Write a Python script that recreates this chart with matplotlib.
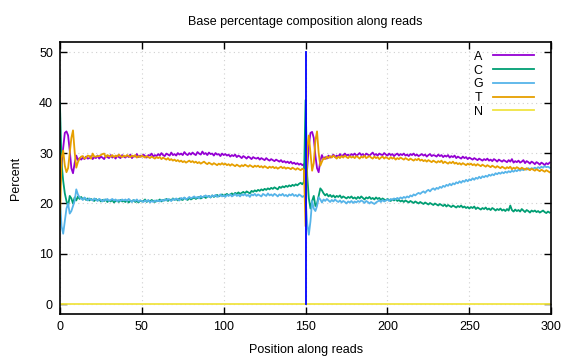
import matplotlib
matplotlib.use("Agg")
import matplotlib.pyplot as plt

plt.rcParams['font.family'] = ['Liberation Sans', 'DejaVu Sans']

# position 0..299 (read 1 = 0..149, read 2 = 150..299)
positions = list(range(300))

a_pct = [
    # read 1
    23.0, 27.5, 31.0, 34.0, 34.3, 33.5, 30.5, 27.0, 26.0, 28.0,
    29.5, 28.6, 29.0, 28.7, 29.1, 28.8, 29.3, 28.9, 29.0, 29.4,
    28.8, 29.2, 29.0, 29.5, 28.9, 29.3, 29.1, 28.8, 29.4, 29.2,
    29.0, 29.6, 29.1, 29.3, 28.9, 29.5, 29.2, 29.0, 29.6, 29.3,
    29.1, 29.5, 29.2, 29.7, 29.0, 29.4, 29.3, 29.8, 29.2, 29.5,
    29.3, 29.7, 29.4, 29.1, 29.6, 29.5, 29.9, 29.3, 29.6, 29.4,
    29.8, 29.5, 30.0, 29.6, 29.4, 29.9, 29.7, 29.5, 30.1, 29.6,
    29.8, 29.5, 30.0, 29.7, 29.9, 29.6, 30.2, 29.8, 29.6, 30.0,
    29.7, 30.1, 29.8, 29.6, 30.2, 29.9, 29.7, 30.3, 29.8, 30.0,
    29.6, 30.1, 29.8, 29.9, 29.5, 30.0, 29.7, 29.8, 29.4, 29.9,
    29.6, 29.8, 29.5, 29.7, 29.3, 29.6, 29.4, 29.7, 29.2, 29.5,
    29.3, 29.0, 29.4, 29.2, 28.9, 29.3, 29.1, 28.8, 29.2, 29.0,
    28.9, 29.1, 28.7, 29.0, 28.8, 28.6, 29.0, 28.7, 28.5, 28.8,
    28.6, 28.4, 28.7, 28.5, 28.3, 28.6, 28.2, 28.4, 28.1, 28.3,
    28.0, 28.3, 27.9, 28.1, 27.8, 28.0, 27.7, 27.9, 27.6, 27.8,
    # read 2
    23.5, 27.0, 31.5, 34.0, 34.2, 33.0, 29.5, 27.0, 26.2, 28.5,
    29.6, 28.8, 29.2, 28.9, 29.5, 29.1, 29.3, 29.7, 29.2, 29.5,
    29.3, 29.8, 29.4, 29.6, 29.9, 29.5, 29.7, 29.4, 29.8, 29.6,
    29.9, 29.5, 29.7, 30.0, 29.6, 29.8, 29.4, 29.9, 29.7, 29.5,
    29.8, 30.1, 29.6, 29.8, 29.5, 29.9, 29.7, 29.6, 30.0, 29.7,
    29.5, 29.9, 29.6, 29.8, 29.4, 29.7, 29.9, 29.5, 29.8, 29.6,
    29.9, 29.5, 29.7, 29.4, 29.8, 29.6, 29.9, 29.5, 29.7, 29.4,
    29.6, 29.8, 29.5, 29.7, 29.3, 29.6, 29.8, 29.4, 29.6, 29.5,
    29.3, 29.7, 29.4, 29.6, 29.2, 29.5, 29.3, 29.6, 29.1, 29.4,
    29.2, 29.5, 29.0, 29.3, 29.1, 28.9, 29.3, 29.0, 29.2, 28.8,
    29.1, 28.9, 28.7, 29.0, 28.8, 28.6, 28.9, 28.7, 28.5, 28.8,
    28.6, 28.9, 28.5, 28.7, 28.4, 28.8, 28.6, 28.3, 28.7, 28.5,
    28.3, 28.6, 28.4, 28.2, 28.6, 28.3, 28.8, 28.1, 28.4, 28.2,
    28.5, 28.1, 28.3, 28.6, 28.0, 28.4, 28.2, 27.9, 28.3, 28.1,
    27.8, 28.2, 28.0, 27.7, 28.1, 27.9, 27.6, 28.0, 27.8, 28.1,
]

c_pct = [
    # read 1
    40.0, 28.0, 24.5, 22.0, 20.5, 19.5, 21.5, 21.0, 20.0, 21.2,
    20.6, 21.4, 20.9, 21.3, 20.8, 21.1, 20.7, 21.0, 20.6, 20.9,
    20.7, 20.5, 20.9, 20.6, 20.8, 20.4, 20.7, 20.5, 20.8, 20.3,
    20.6, 20.4, 20.7, 20.2, 20.5, 20.6, 20.3, 20.7, 20.4, 20.5,
    20.3, 20.6, 20.2, 20.5, 20.4, 20.7, 20.3, 20.5, 20.2, 20.6,
    20.4, 20.5, 20.8, 20.3, 20.6, 20.4, 20.7, 20.5, 20.3, 20.6,
    20.5, 20.8, 20.4, 20.7, 20.6, 20.9, 20.5, 20.8, 20.6, 21.0,
    20.7, 20.9, 20.6, 21.0, 20.8, 20.7, 21.1, 20.9, 20.7, 21.1,
    20.8, 21.0, 21.2, 20.9, 21.1, 21.3, 21.0, 21.2, 21.4, 21.1,
    21.3, 21.5, 21.2, 21.6, 21.3, 21.5, 21.7, 21.4, 21.6, 21.8,
    21.5, 21.7, 21.9, 21.6, 21.8, 22.0, 21.7, 22.1, 21.9, 22.2,
    21.9, 22.1, 22.3, 22.0, 22.4, 22.2, 22.0, 22.5, 22.3, 22.6,
    22.4, 22.7, 22.5, 22.8, 22.6, 22.9, 22.7, 23.0, 22.8, 23.1,
    22.9, 23.2, 23.0, 22.8, 23.3, 23.1, 23.4, 23.2, 23.5, 23.3,
    23.6, 23.4, 23.7, 23.5, 23.8, 23.6, 23.9, 24.1, 23.8, 24.3,
    # read 2
    40.5, 25.5, 21.0, 19.0, 20.5, 21.5, 19.5, 20.0, 21.5, 23.0,
    22.6, 22.0, 21.6, 21.9, 21.4, 21.7, 21.3, 21.6, 21.2, 21.5,
    21.3, 21.6, 21.1, 21.4, 21.2, 21.0, 21.3, 21.1, 21.4, 21.0,
    21.2, 20.9, 21.3, 21.0, 21.4, 21.1, 20.8, 21.2, 21.0, 21.3,
    20.9, 21.1, 20.8, 21.2, 20.9, 21.1, 20.7, 21.0, 20.8, 20.6,
    20.9, 20.7, 20.5, 20.8, 20.6, 20.9, 20.5, 20.7, 20.4, 20.6,
    20.3, 20.6, 20.4, 20.2, 20.5, 20.3, 20.1, 20.4, 20.2, 20.0,
    20.3, 20.1, 19.9, 20.2, 20.0, 19.8, 20.1, 19.9, 19.7, 20.0,
    19.8, 19.6, 19.9, 19.7, 19.5, 19.8, 19.4, 19.7, 19.5, 19.3,
    19.6, 19.4, 19.2, 19.5, 19.3, 19.6, 19.2, 19.4, 19.1, 19.3,
    19.0, 19.3, 19.1, 19.4, 18.9, 19.2, 19.0, 18.8, 19.1, 18.9,
    19.2, 18.8, 19.0, 18.7, 19.1, 18.9, 18.6, 18.9, 18.7, 19.0,
    18.6, 18.8, 18.5, 18.9, 18.6, 19.6, 18.7, 18.4, 18.8, 18.5,
    18.7, 18.4, 18.9, 18.6, 18.3, 18.7, 18.5, 18.2, 18.6, 18.4,
    18.6, 18.3, 18.5, 18.2, 18.4, 18.6, 18.3, 18.1, 18.4, 18.2,
]

g_pct = [
    # read 1
    21.0, 15.5, 14.0, 16.5, 19.0, 20.0, 18.0, 18.5, 19.5, 20.5,
    22.8, 21.8, 21.2, 21.0, 20.7, 21.2, 20.9, 20.6, 21.0, 20.8,
    20.6, 21.0, 20.8, 20.5, 20.9, 20.7, 20.4, 20.8, 20.6, 20.9,
    20.5, 20.7, 20.9, 20.6, 20.8, 20.4, 20.7, 20.5, 20.8, 20.6,
    20.8, 20.5, 20.9, 20.6, 20.3, 20.7, 20.5, 20.8, 20.4, 20.6,
    20.5, 20.3, 20.6, 20.4, 20.7, 20.2, 20.5, 20.3, 20.6, 20.4,
    20.6, 20.4, 20.7, 20.5, 20.8, 20.6, 20.9, 20.7, 20.5, 20.9,
    20.7, 21.0, 20.8, 20.6, 21.1, 20.9, 21.2, 20.8, 21.0, 21.3,
    21.0, 21.2, 21.4, 21.1, 21.3, 21.0, 21.5, 21.2, 21.4, 21.6,
    21.3, 21.5, 21.2, 21.6, 21.4, 21.7, 21.3, 21.5, 21.8, 21.4,
    21.6, 21.3, 21.7, 21.5, 21.8, 21.4, 21.6, 21.9, 21.5, 21.7,
    21.4, 21.8, 21.6, 21.9, 21.5, 21.7, 21.3, 21.8, 21.6, 21.9,
    21.5, 21.8, 21.6, 21.4, 21.9, 21.7, 21.5, 22.0, 21.6, 21.8,
    21.5, 21.9, 21.7, 21.4, 21.8, 21.6, 21.9, 21.5, 21.7, 21.4,
    21.8, 21.6, 21.9, 21.5, 21.7, 21.4, 21.8, 21.6, 21.3, 21.5,
    # read 2
    21.0, 16.0, 13.8, 16.5, 20.5, 19.0, 18.5, 19.5, 21.2, 20.8,
    20.2, 20.8, 20.5, 20.9, 20.6, 20.3, 20.7, 20.4, 20.8, 20.5,
    20.3, 20.6, 20.2, 20.5, 20.3, 20.0, 20.4, 20.2, 20.5, 20.1,
    20.4, 20.2, 20.5, 20.3, 20.6, 20.4, 20.1, 20.5, 20.3, 20.0,
    20.3, 20.1, 19.9, 20.2, 20.4, 20.6, 20.3, 20.7, 20.4, 20.6,
    20.8, 20.5, 20.9, 20.7, 21.0, 20.8, 21.1, 20.9, 21.2, 21.0,
    21.3, 21.1, 21.4, 21.2, 21.6, 21.4, 21.8, 21.6, 21.9, 22.1,
    21.9, 22.2, 22.4, 22.1, 22.5, 22.7, 22.4, 22.8, 23.0, 22.7,
    23.1, 22.9, 23.3, 23.1, 23.5, 23.3, 23.7, 23.5, 23.9, 23.6,
    24.0, 23.8, 24.2, 24.0, 24.4, 24.1, 24.5, 24.3, 24.7, 24.4,
    24.8, 24.6, 25.0, 24.7, 25.1, 24.9, 25.3, 25.0, 25.4, 25.2,
    25.5, 25.3, 25.7, 25.5, 25.8, 25.6, 26.0, 25.8, 26.1, 25.9,
    26.2, 26.0, 26.3, 26.1, 26.4, 26.2, 26.5, 26.3, 26.6, 26.4,
    26.7, 26.5, 26.8, 26.6, 26.9, 26.7, 27.0, 26.8, 27.0, 26.9,
    27.1, 26.9, 27.2, 27.0, 27.3, 27.1, 27.4, 27.2, 27.3, 27.1,
]

t_pct = [
    # read 1
    16.0, 29.0, 30.5, 27.5, 26.2, 27.0, 30.0, 33.0, 34.5, 30.3,
    27.1, 28.2, 28.9, 29.3, 29.4, 28.9, 29.1, 29.5, 29.4, 28.9,
    29.9, 29.3, 29.3, 29.4, 29.4, 29.6, 29.8, 29.9, 29.2, 29.6,
    29.4, 29.3, 29.6, 29.2, 29.5, 29.3, 29.7, 29.4, 29.2, 29.5,
    29.3, 29.6, 29.4, 29.2, 29.5, 29.3, 29.6, 29.1, 29.4, 29.2,
    29.5, 29.3, 29.1, 29.4, 29.2, 29.0, 29.3, 29.1, 28.9, 29.2,
    29.0, 29.2, 28.8, 29.1, 28.9, 28.7, 29.0, 28.6, 28.8, 28.5,
    28.7, 28.4, 28.6, 28.3, 28.5, 28.2, 28.4, 28.1, 28.3, 28.5,
    28.2, 28.4, 28.1, 28.3, 28.0, 28.2, 27.9, 28.1, 28.3, 28.0,
    27.8, 28.1, 27.9, 27.7, 28.0, 27.8, 27.6, 27.9, 27.7, 28.0,
    27.7, 27.9, 27.6, 27.8, 27.5, 27.8, 27.6, 27.4, 27.7, 27.5,
    27.3, 27.6, 27.4, 27.7, 27.5, 27.3, 27.6, 27.4, 27.2, 27.5,
    27.3, 27.5, 27.2, 27.4, 27.1, 27.4, 27.2, 27.0, 27.3, 27.1,
    27.3, 27.0, 27.2, 26.9, 27.1, 27.3, 27.0, 27.2, 26.9, 27.1,
    27.0, 26.8, 27.1, 26.9, 26.7, 27.0, 26.8, 26.6, 26.9, 26.7,
    # read 2
    15.5, 31.0, 33.5, 30.0, 26.5, 28.0, 32.5, 34.3, 30.0, 27.5,
    28.3, 29.0, 28.8, 29.3, 29.0, 29.4, 29.1, 29.5, 29.2, 28.9,
    29.3, 29.0, 29.4, 29.1, 29.5, 29.2, 29.0, 29.4, 29.1, 29.3,
    29.0, 29.4, 29.2, 28.9, 29.3, 29.1, 29.5, 29.0, 29.2, 29.4,
    29.1, 28.9, 29.3, 29.0, 29.2, 28.8, 29.1, 29.3, 28.9, 29.2,
    29.0, 28.8, 29.2, 28.9, 29.1, 28.7, 29.0, 28.8, 29.1, 28.9,
    28.7, 29.0, 28.8, 28.6, 28.9, 28.7, 28.5, 28.8, 28.6, 28.9,
    28.5, 28.7, 28.4, 28.6, 28.3, 28.6, 28.4, 28.2, 28.5, 28.3,
    28.1, 28.4, 28.2, 28.5, 28.0, 28.3, 28.1, 27.9, 28.2, 28.0,
    28.3, 27.9, 28.1, 27.8, 28.0, 27.7, 28.0, 27.8, 27.6, 27.9,
    27.7, 27.9, 27.6, 27.8, 27.5, 27.8, 27.6, 27.4, 27.7, 27.5,
    27.3, 27.6, 27.4, 27.2, 27.5, 27.3, 27.1, 27.4, 27.2, 27.0,
    27.3, 27.1, 26.9, 27.2, 27.0, 27.3, 26.8, 27.1, 26.9, 27.2,
    27.0, 26.8, 27.1, 26.9, 26.7, 27.0, 26.8, 26.6, 26.9, 26.7,
    26.5, 26.8, 26.6, 26.4, 26.7, 26.5, 26.3, 26.6, 26.4, 26.2,
]

n_pct = [0.0] * 300

# read 1 / read 2 boundary
read_split = 150
split_span = [0, 50]

series = [
    ('A', a_pct, '#9400d3'),
    ('C', c_pct, '#009e73'),
    ('G', g_pct, '#56b4e9'),
    ('T', t_pct, '#e69f00'),
    ('N', n_pct, '#f0e442'),
]

fig = plt.figure(figsize=(5.76, 3.6), dpi=100)
ax = fig.add_axes([0.104, 0.128, 0.853, 0.755])

for name, vals, col in series:
    ax.plot(positions, vals, color=col, lw=1.3, label=name)

ax.plot([read_split, read_split], split_span, color='#0000ff', lw=1.3, zorder=5)

ax.set_xlim(0, 300)
ax.set_ylim(-1.9, 52)
ax.set_xticks(range(0, 301, 50))
ax.set_yticks(range(0, 51, 10))
ax.grid(True, color='#d0d0d0', linestyle=(0, (1, 3)), lw=0.8)
ax.tick_params(direction='in', length=5, width=1, top=True, right=True,
               labelsize=9, colors='black', pad=5)
for s in ax.spines.values():
    s.set_linewidth(1.2)

ax.set_title('Base percentage composition along reads', fontsize=9, pad=12)
ax.set_xlabel('Position along reads', fontsize=9, labelpad=8)
ax.set_ylabel('Percent', fontsize=9, labelpad=12)

leg = ax.legend(loc='upper right', bbox_to_anchor=(0.985, 1.005),
                markerfirst=False, frameon=False,
                fontsize=9, handlelength=3.3, handletextpad=0.8,
                labelspacing=0.14, borderaxespad=0.4)

fig.savefig('out.png', dpi=100)
